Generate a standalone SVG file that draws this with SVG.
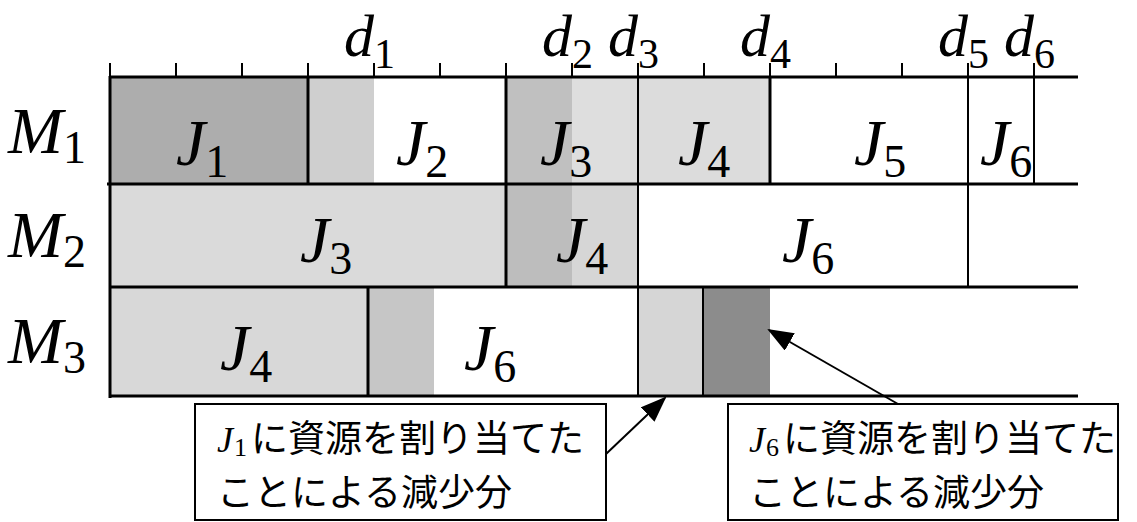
<svg xmlns="http://www.w3.org/2000/svg" width="1137" height="522" viewBox="0 0 1137 522">
<style>
.mi{font-family:'Liberation Serif','DejaVu Serif',serif;font-style:italic;fill:#000}
.sub{font-style:normal}
.jp{font-family:'Noto Sans CJK JP','Noto Sans',sans-serif;font-size:37px;font-style:normal;fill:#000}
.ln{stroke:#000;stroke-width:3;fill:none}
.tn{stroke:#000;stroke-width:2;fill:none}
.tk{stroke:#000;stroke-width:2}
.box{fill:#fff;stroke:#000;stroke-width:2}
.lbl{font-size:66px}
.lbl .sub{font-size:46px}
.dl{font-size:60px}
.dl .sub{font-size:42px}
.cj{font-size:36px}
.cj .sub{font-size:26px}
</style>
<defs>
<marker id="ah" markerUnits="userSpaceOnUse" markerWidth="26" markerHeight="20" refX="24" refY="10" orient="auto">
<path d="M0,0 L26,10 L0,20 z" fill="#000"/>
</marker>
</defs>
<rect width="1137" height="522" fill="#fff"/>

<g id="cells-m1">
<rect x="110" y="77" width="198" height="106" fill="#adadad"/>
<rect x="308" y="77" width="66" height="106" fill="#cfcfcf"/>
<rect x="506" y="77" width="66" height="106" fill="#c0c0c0"/>
<rect x="572" y="77" width="66" height="106" fill="#dedede"/>
<rect x="638" y="77" width="132" height="106" fill="#dcdcdc"/>
</g>
<g id="cells-m2">
<rect x="110" y="184" width="396" height="103" fill="#dadada"/>
<rect x="506" y="184" width="66" height="103" fill="#bdbdbd"/>
<rect x="572" y="184" width="66" height="103" fill="#d6d6d6"/>
</g>
<g id="cells-m3">
<rect x="110" y="287" width="258" height="109" fill="#d8d8d8"/>
<rect x="368" y="287" width="66" height="109" fill="#c6c6c6"/>
<rect x="638" y="287" width="65" height="109" fill="#d6d6d6"/>
<rect x="703" y="287" width="67" height="109" fill="#8c8c8c"/>
</g>

<g id="grid">
<line class="ln" x1="110" y1="77" x2="1078" y2="77"/>
<line class="ln" x1="107" y1="184" x2="1078" y2="184"/>
<line class="ln" x1="110" y1="287" x2="1078" y2="287"/>
<line class="ln" x1="110" y1="396" x2="1078" y2="396"/>
<line class="ln" x1="110" y1="76" x2="110" y2="398"/>
<line class="ln" x1="308" y1="77" x2="308" y2="184"/>
<line class="ln" x1="506" y1="77" x2="506" y2="287"/>
<line class="tn" x1="638" y1="77" x2="638" y2="396"/>
<line class="ln" x1="770" y1="77" x2="770" y2="184"/>
<line class="tn" x1="968" y1="77" x2="968" y2="287"/>
<line class="tn" x1="1034" y1="77" x2="1034" y2="184"/>
<line class="ln" x1="368" y1="287" x2="368" y2="396"/>
<line class="tn" x1="703" y1="287" x2="703" y2="396"/>
<line class="tk" x1="110" y1="63" x2="110" y2="77"/>
<line class="tk" x1="176" y1="63" x2="176" y2="77"/>
<line class="tk" x1="242" y1="63" x2="242" y2="77"/>
<line class="tk" x1="308" y1="63" x2="308" y2="77"/>
<line class="tk" x1="374" y1="63" x2="374" y2="77"/>
<line class="tk" x1="440" y1="63" x2="440" y2="77"/>
<line class="tk" x1="506" y1="63" x2="506" y2="77"/>
<line class="tk" x1="572" y1="63" x2="572" y2="77"/>
<line class="tk" x1="638" y1="63" x2="638" y2="77"/>
<line class="tk" x1="704" y1="63" x2="704" y2="77"/>
<line class="tk" x1="770" y1="63" x2="770" y2="77"/>
<line class="tk" x1="836" y1="63" x2="836" y2="77"/>
<line class="tk" x1="902" y1="63" x2="902" y2="77"/>
<line class="tk" x1="968" y1="63" x2="968" y2="77"/>
<line class="tk" x1="1034" y1="63" x2="1034" y2="77"/>
</g>

<g id="deadlines">
<text class="mi dl" x="344" y="56">d<tspan class="sub" dy="12">1</tspan></text>
<text class="mi dl" x="542" y="56">d<tspan class="sub" dy="12">2</tspan></text>
<text class="mi dl" x="608" y="56">d<tspan class="sub" dy="12">3</tspan></text>
<text class="mi dl" x="740" y="56">d<tspan class="sub" dy="12">4</tspan></text>
<text class="mi dl" x="938" y="56">d<tspan class="sub" dy="12">5</tspan></text>
<text class="mi dl" x="1004" y="56">d<tspan class="sub" dy="12">6</tspan></text>
</g>

<g id="machines">
<text class="mi lbl" x="8" y="153">M<tspan class="sub" dy="10">1</tspan></text>
<text class="mi lbl" x="8" y="257">M<tspan class="sub" dy="10">2</tspan></text>
<text class="mi lbl" x="8" y="363">M<tspan class="sub" dy="10">3</tspan></text>
</g>

<g id="job-labels">
<text class="mi lbl" x="176" y="165">J<tspan class="sub" dy="12">1</tspan></text>
<text class="mi lbl" x="396" y="165">J<tspan class="sub" dy="12">2</tspan></text>
<text class="mi lbl" x="540" y="165">J<tspan class="sub" dy="12">3</tspan></text>
<text class="mi lbl" x="678" y="165">J<tspan class="sub" dy="12">4</tspan></text>
<text class="mi lbl" x="854" y="165">J<tspan class="sub" dy="12">5</tspan></text>
<text class="mi lbl" x="980" y="165">J<tspan class="sub" dy="12">6</tspan></text>
<text class="mi lbl" x="300" y="262">J<tspan class="sub" dy="12">3</tspan></text>
<text class="mi lbl" x="556" y="262">J<tspan class="sub" dy="12">4</tspan></text>
<text class="mi lbl" x="782" y="262">J<tspan class="sub" dy="12">6</tspan></text>
<text class="mi lbl" x="220" y="370">J<tspan class="sub" dy="12">4</tspan></text>
<text class="mi lbl" x="464" y="370">J<tspan class="sub" dy="12">6</tspan></text>
</g>

<g id="callout-j1">
<rect class="box" x="195" y="404" width="411" height="116"/>
<text class="mi cj" x="217" y="452">J<tspan class="sub" dx="1" dy="4">1</tspan><tspan class="jp" dx="4" dy="-4">に資源を割り当てた</tspan></text>
<text class="jp" x="217" y="506">ことによる減少分</text>
</g>

<g id="callout-j6">
<rect class="box" x="728" y="404" width="390" height="116"/>
<text class="mi cj" x="749" y="452">J<tspan class="sub" dx="1" dy="4">6</tspan><tspan class="jp" dx="4" dy="-4">に資源を割り当てた</tspan></text>
<text class="jp" x="749" y="506">ことによる減少分</text>
</g>

<g id="connectors">
<line x1="606" y1="454" x2="665" y2="398" stroke="#000" stroke-width="2" marker-end="url(#ah)"/>
<line x1="898" y1="404" x2="769" y2="330" stroke="#000" stroke-width="2" marker-end="url(#ah)"/>
</g>
</svg>
